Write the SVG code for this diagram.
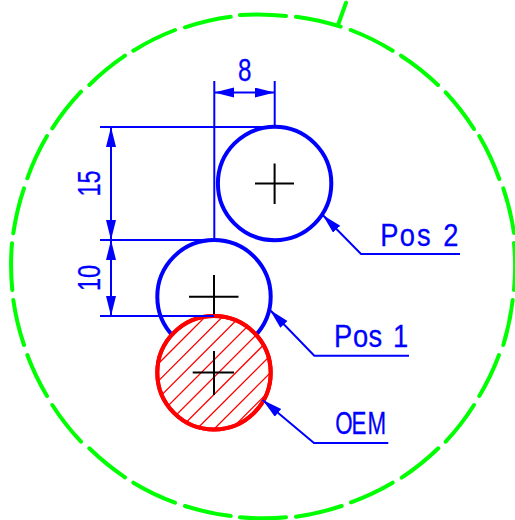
<svg xmlns="http://www.w3.org/2000/svg" width="515" height="520" viewBox="0 0 515 520">
<style>
.outline{fill:none;stroke:#00ff00;stroke-width:4;stroke-linecap:round}
.circ{fill:#fff;stroke:#0000ff;stroke-width:4}
.oem{fill:#fff;stroke:#ff0000;stroke-width:4}
.cross{fill:none;stroke:#000;stroke-width:2}
.dim{fill:none;stroke:#0000ff;stroke-width:2}
.hatch{fill:none;stroke:#ff0000;stroke-width:1.3}
.lbl,.num{font-family:"Liberation Sans",Arial,sans-serif;font-size:31px;fill:#0000ff;stroke:#0000ff;stroke-width:.3}
</style>
<defs>
<marker id="arrow" markerUnits="userSpaceOnUse" markerWidth="22" markerHeight="12" refX="20" refY="5" orient="auto-start-reverse"><path d="M20,5 L0,0 L0,10 Z" fill="#0000ff"/></marker>
<clipPath id="oemClip"><circle cx="214" cy="372.7" r="56.5"/></clipPath>
</defs>
<g id="outline">
<path class="outline" d="M240,15 A251.5,251.5 0 0 1 286,16 M296,16.7 A251.5,251.5 0 0 1 340.7,26.7 M350.7,30 A251.5,251.5 0 0 1 392.7,50.7 M401,55.7 A251.5,251.5 0 0 1 438,85 M445.7,92.3 A251.5,251.5 0 0 1 474,129 M479.3,136 A251.5,251.5 0 0 1 499.3,179 M503.3,188.3 A251.5,251.5 0 0 1 514,233 M514,243 A251.5,251.5 0 0 1 514,290 M512.7,300 A251.5,251.5 0 0 1 503.3,345 M499,355 A251.5,251.5 0 0 1 479.3,396 M474,405 A251.5,251.5 0 0 1 445.7,441.7 M438.3,448.3 A251.5,251.5 0 0 1 401.7,477.7 M392.7,482.7 A251.5,251.5 0 0 1 351,502.3 M341.7,506 A251.5,251.5 0 0 1 296,516.7 M286,517.3 A251.5,251.5 0 0 1 240,517.3 M230.7,516 A251.5,251.5 0 0 1 185,506 M175,502.7 A251.5,251.5 0 0 1 133.3,482.7 M125,477.3 A251.5,251.5 0 0 1 89.3,448.3 M81,441.7 A251.5,251.5 0 0 1 52.3,405 M47,396 A251.5,251.5 0 0 1 27.3,355 M24,345 A251.5,251.5 0 0 1 13.3,300 M12.3,290 A251.5,251.5 0 0 1 12,243.3 M13.3,233.3 A251.5,251.5 0 0 1 24,188.3 M27.3,178.3 A251.5,251.5 0 0 1 47,136 M52.3,128.3 A251.5,251.5 0 0 1 81,91.7 M89.3,85 A251.5,251.5 0 0 1 125,55.7 M133.3,50.7 A251.5,251.5 0 0 1 175,30 M185,27.3 A251.5,251.5 0 0 1 230.7,16.7 M338,25 L346,2.7"/>
</g>
<g id="pos1">
<circle class="circ" cx="214" cy="296.7" r="56.7"/>
<path class="cross" d="M189,296.7 H238.5 M214,275 V316"/>
</g>
<g id="pos2">
<circle class="circ" cx="274.6" cy="183.5" r="56.7"/>
<path class="cross" d="M255,183.5 H294 M274.6,163.5 V204"/>
</g>
<g id="oem">
<circle class="oem" cx="214" cy="372.7" r="56.7"/>
<g clip-path="url(#oemClip)"><path class="hatch" d="M150,372 L280,242 M150,389.3 L280,259.3 M150,406.6 L280,276.6 M150,423.9 L280,293.9 M150,441.2 L280,311.2 M150,458.5 L280,328.5 M150,475.8 L280,345.8 M150,493.1 L280,363.1 M150,510.4 L280,380.4"/></g>
<circle cx="214" cy="372.7" r="56.7" fill="none" stroke="#ff0000" stroke-width="4"/>
<path class="cross" d="M192.7,372.5 H234 M214,351 V395"/>
</g>
<g id="connectors">
<path class="dim" d="M214.3,81 V240 M274.7,81 V127 M100,127 H274.7 M100,240 H214.3 M100,316 H214"/>
<path class="dim" d="M214.3,92.5 H274.7" marker-start="url(#arrow)" marker-end="url(#arrow)"/>
<path class="dim" d="M111,127 V240" marker-start="url(#arrow)" marker-end="url(#arrow)"/>
<path class="dim" d="M111,240 V316" marker-start="url(#arrow)" marker-end="url(#arrow)"/>
<path class="dim" d="M322.7,215 L361,254 H460" marker-start="url(#arrow)"/>
<path class="dim" d="M270,310 L314.3,355.7 H409" marker-start="url(#arrow)"/>
<path class="dim" d="M262.7,400 L314,443 H388.3" marker-start="url(#arrow)"/>
</g>
<g id="labels">
<text class="num" transform="translate(244.7,80.7) scale(.78,1)" text-anchor="middle">8</text>
<text class="num" transform="translate(99.5,183.4) rotate(-90) scale(.76,1)" text-anchor="middle">15</text>
<text class="num" transform="translate(99.5,278) rotate(-90) scale(.76,1)" text-anchor="middle">10</text>
<text class="lbl" transform="scale(.88,1)" x="432 454.2 473.9 490 503.6" y="246">Pos 2</text>
<text class="lbl" transform="scale(.88,1)" x="379.5 401.1 418.8 435 446.5" y="347">Pos 1</text>
<text class="lbl" transform="scale(.72,1)" x="465.6 488.2 510.4" y="434">OEM</text>
</g>
</svg>
